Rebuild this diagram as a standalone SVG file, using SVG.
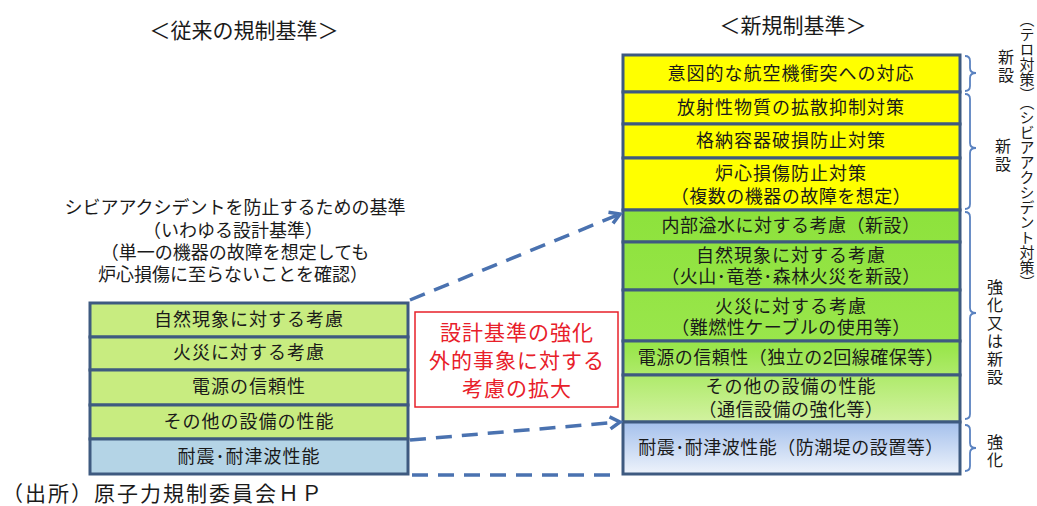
<svg xmlns="http://www.w3.org/2000/svg" width="1037" height="506" viewBox="0 0 1037 506">
<style>
text{font-family:"Liberation Sans","Noto Sans CJK JP",sans-serif;fill:#1a1a1a;}
.t{font-size:18px;text-anchor:middle;dominant-baseline:central;letter-spacing:1px;}
.p{letter-spacing:0.5px;}
.h{font-size:21px;text-anchor:middle;dominant-baseline:central;}
.d{font-size:18px;text-anchor:middle;dominant-baseline:central;}
.r{font-size:21px;text-anchor:middle;dominant-baseline:central;fill:#e8202a;letter-spacing:1px;}
.v{font-size:16px;text-anchor:middle;dominant-baseline:central;}
.box{stroke:#3e5a80;stroke-width:3;}
.brace{fill:none;stroke:#5a82c0;stroke-width:1.8;}
.dash{fill:none;stroke:#4a72b0;stroke-width:3.5;stroke-dasharray:16 10;}
</style>
<defs>
<linearGradient id="gGreen" gradientUnits="userSpaceOnUse" x1="0" y1="210" x2="0" y2="422">
<stop offset="0" stop-color="#8de23c"/>
<stop offset="0.65" stop-color="#9ae64c"/>
<stop offset="1" stop-color="#d2f2a0"/>
</linearGradient>
<linearGradient id="gBlue" x1="0" y1="0" x2="0" y2="1">
<stop offset="0" stop-color="#a4c0ec"/>
<stop offset="1" stop-color="#eef3fb"/>
</linearGradient>
<marker id="arr" markerWidth="16" markerHeight="16" refX="13" refY="8" orient="auto" markerUnits="userSpaceOnUse">
<path d="M3,2 L13,8 L3,14" fill="none" stroke="#4a72b0" stroke-width="3.5"/>
</marker>
</defs>

<g id="titles">
<text class="h" x="244" y="30">＜従来の規制基準＞</text>
<text class="h" x="793" y="25">＜新規制基準＞</text>
</g>

<g id="old-desc">
<text class="d" x="235" y="208">シビアアクシデントを防止するための基準</text>
<text class="d" x="233" y="231">（いわゆる設計基準）</text>
<text class="d" x="235" y="253">（単一の機器の故障を想定しても</text>
<text class="d" x="233" y="275">炉心損傷に至らないことを確認）</text>
</g>

<g id="old-1"><rect class="box" x="90" y="303" width="318" height="34" fill="#c8ec80"/><text class="t" x="249" y="320">自然現象に対する考慮</text></g>
<g id="old-2"><rect class="box" x="90" y="337" width="318" height="33" fill="#c8ec80"/><text class="t" x="249" y="353">火災に対する考慮</text></g>
<g id="old-3"><rect class="box" x="90" y="370" width="318" height="35" fill="#c8ec80"/><text class="t" x="249" y="387">電源の信頼性</text></g>
<g id="old-4"><rect class="box" x="90" y="405" width="318" height="34" fill="#c8ec80"/><text class="t" x="249" y="422">その他の設備の性能</text></g>
<g id="old-5"><rect class="box" x="90" y="439" width="318" height="35" fill="#b4d4e6"/><text class="t" x="249" y="457">耐震･耐津波性能</text></g>

<g id="new-1"><rect class="box" x="623" y="55" width="337" height="37" fill="#ffff00"/><text class="t" x="791" y="74">意図的な航空機衝突への対応</text></g>
<g id="new-2"><rect class="box" x="623" y="92" width="337" height="32" fill="#ffff00"/><text class="t" x="791" y="108">放射性物質の拡散抑制対策</text></g>
<g id="new-3"><rect class="box" x="623" y="124" width="337" height="34" fill="#ffff00"/><text class="t" x="791" y="141">格納容器破損防止対策</text></g>
<g id="new-4"><rect class="box" x="623" y="158" width="337" height="52" fill="#ffff00"/><text class="t" x="791" y="174">炉心損傷防止対策</text><text class="t p" x="791" y="197">（複数の機器の故障を想定）</text></g>
<g id="new-5"><rect class="box" x="623" y="210" width="337" height="32" fill="url(#gGreen)"/><text class="t p" x="791" y="226">内部溢水に対する考慮（新設）</text></g>
<g id="new-6"><rect class="box" x="623" y="242" width="337" height="48" fill="url(#gGreen)"/><text class="t" x="791" y="256">自然現象に対する考慮</text><text class="t p" x="791" y="277">（火山･竜巻･森林火災を新設）</text></g>
<g id="new-7"><rect class="box" x="623" y="290" width="337" height="51" fill="url(#gGreen)"/><text class="t" x="791" y="307">火災に対する考慮</text><text class="t p" x="791" y="328">（難燃性ケーブルの使用等）</text></g>
<g id="new-8"><rect class="box" x="623" y="341" width="337" height="34" fill="url(#gGreen)"/><text class="t p" x="791" y="358">電源の信頼性（独立の2回線確保等）</text></g>
<g id="new-9"><rect class="box" x="623" y="375" width="337" height="47" fill="url(#gGreen)"/><text class="t" x="791" y="387">その他の設備の性能</text><text class="t p" x="791" y="410">（通信設備の強化等）</text></g>
<g id="new-10"><rect class="box" x="623" y="422" width="337" height="52" fill="url(#gBlue)"/><text class="t p" x="791" y="448">耐震･耐津波性能（防潮堤の設置等）</text></g>

<g id="red-note">
<rect x="415" y="312" width="203" height="95" fill="#ffffff" stroke="#e8202a" stroke-width="1.5"/>
<text class="r" x="517" y="332">設計基準の強化</text>
<text class="r" x="517" y="360">外的事象に対する</text>
<text class="r" x="517" y="388">考慮の拡大</text>
</g>

<g id="connectors">
<path class="dash" d="M410,300 L620,214" marker-end="url(#arr)"/>
<path class="dash" d="M410,440 L620,422" marker-end="url(#arr)"/>
<path class="dash" d="M412,475 L620,475"/>
</g>

<g id="braces">
<path class="brace" d="M965,56 Q970,56 970,61 L970,68 Q970,73 976,73 Q970,73 970,78 L970,86 Q970,91 965,91"/>
<path class="brace" d="M965,94 Q970,94 970,99 L970,143 Q970,148 976,148 Q970,148 970,153 L970,204 Q970,209 965,209"/>
<path class="brace" d="M965,212 Q970,212 970,217 L970,308 Q970,313 976,313 Q970,313 970,318 L970,414 Q970,419 965,419"/>
<path class="brace" d="M965,425 Q970,425 970,430 L970,443 Q970,448 976,448 Q970,448 970,453 L970,466 Q970,471 965,471"/>
</g>

<g id="brace-labels">
<text class="v" x="1006" y="57">新</text><text class="v" x="1006" y="75">設</text>
<text class="v" x="1003" y="146">新</text><text class="v" x="1003" y="164">設</text>
<text class="v" x="995" y="287">強</text><text class="v" x="995" y="305">化</text><text class="v" x="995" y="323">又</text><text class="v" x="995" y="341">は</text><text class="v" x="995" y="359">新</text><text class="v" x="995" y="377">設</text>
<text class="v" x="995" y="442">強</text><text class="v" x="995" y="460">化</text>
<text x="1026" y="12" style="writing-mode:vertical-rl;font-size:15px;">（テロ対策）（シビアアクシデント対策）</text>
</g>

<g id="source">
<text x="2" y="494" style="font-size:21px;letter-spacing:2px;font-family:'Liberation Serif','Noto Sans CJK JP',serif;" dominant-baseline="central">（出所）原子力規制委員会ＨＰ</text>
</g>
</svg>
